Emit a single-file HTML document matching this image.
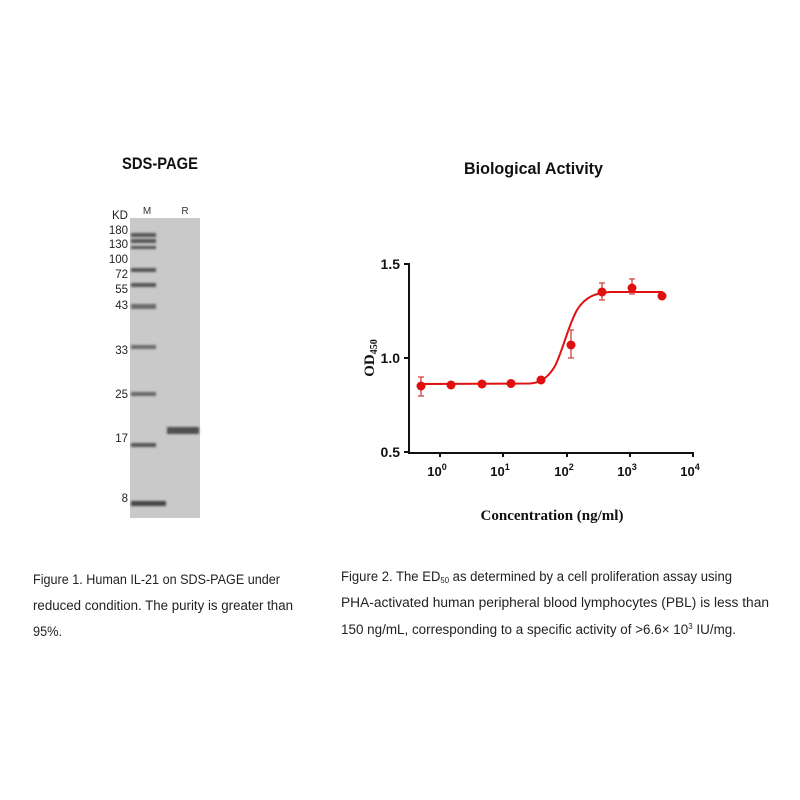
<!DOCTYPE html>
<html><head><meta charset="utf-8"><style>
html,body{margin:0;padding:0;background:#fff;}
svg{display:block;}
.cap{font-family:"Liberation Sans",sans-serif;font-size:13.5px;fill:#222;}
</style></head><body>
<svg width="800" height="800" viewBox="0 0 800 800" xmlns="http://www.w3.org/2000/svg">
<rect width="800" height="800" fill="#fff"/>
<defs><filter id="bl"><feGaussianBlur stdDeviation="1.1"/></filter></defs>
<text x="122" y="169" textLength="76" lengthAdjust="spacingAndGlyphs" font-family="Liberation Sans, sans-serif" font-size="17" font-weight="bold" fill="#111">SDS-PAGE</text>
<text x="464" y="174" textLength="139" lengthAdjust="spacingAndGlyphs" font-family="Liberation Sans, sans-serif" font-size="17" font-weight="bold" fill="#111">Biological Activity</text>
<!-- gel -->
<rect x="130" y="218" width="70" height="300" fill="#c9c9c9"/>
<g filter="url(#bl)" fill="#555">
<rect x="131" y="233" width="25" height="4"/>
<rect x="131" y="239" width="25" height="4"/>
<rect x="131" y="246" width="25" height="3"/>
<rect x="131" y="268" width="25" height="4"/>
<rect x="131" y="283" width="25" height="4"/>
<rect x="131" y="304" width="25" height="5" fill="#6a6a6a"/>
<rect x="131" y="345" width="25" height="4" fill="#6a6a6a"/>
<rect x="131" y="392" width="25" height="4" fill="#666"/>
<rect x="131" y="443" width="25" height="4"/>
<rect x="131" y="501" width="35" height="5" fill="#444"/>
<rect x="167" y="427" width="32" height="7" fill="#505050"/>
</g>
<g font-family="Liberation Sans, sans-serif" font-size="11.5" fill="#222" text-anchor="end">
<text x="128" y="219">KD</text>
<text x="128" y="234">180</text>
<text x="128" y="248">130</text>
<text x="128" y="263">100</text>
<text x="128" y="278">72</text>
<text x="128" y="293">55</text>
<text x="128" y="309">43</text>
<text x="128" y="354">33</text>
<text x="128" y="398">25</text>
<text x="128" y="442">17</text>
<text x="128" y="502">8</text>
</g>
<text x="147" y="214" text-anchor="middle" font-family="Liberation Sans, sans-serif" font-size="10" fill="#333">M</text>
<text x="185" y="214" text-anchor="middle" font-family="Liberation Sans, sans-serif" font-size="10" fill="#333">R</text>
<!-- chart axes -->
<g stroke="#111" stroke-width="2" fill="none">
<path d="M409,263 V453 H693"/>
<path d="M404,264 H409 M404,358 H409 M404,452 H409"/>
<path d="M440,452 V457 M503,452 V457 M567,452 V457 M630,452 V457 M693,452 V457"/>
</g>
<g font-family="Liberation Sans, sans-serif" font-size="14" font-weight="bold" fill="#111" text-anchor="end">
<text x="400" y="269">1.5</text><text x="400" y="363">1.0</text><text x="400" y="457">0.5</text>
</g>
<g font-family="Liberation Sans, sans-serif" font-size="13" font-weight="bold" fill="#111" text-anchor="middle">
<text x="437" y="476">10<tspan font-size="9" dy="-6">0</tspan></text>
<text x="500" y="476">10<tspan font-size="9" dy="-6">1</tspan></text>
<text x="564" y="476">10<tspan font-size="9" dy="-6">2</tspan></text>
<text x="627" y="476">10<tspan font-size="9" dy="-6">3</tspan></text>
<text x="690" y="476">10<tspan font-size="9" dy="-6">4</tspan></text>
</g>
<text x="552" y="520" text-anchor="middle" font-family="Liberation Serif, serif" font-size="15" font-weight="bold" fill="#111">Concentration (ng/ml)</text>
<text transform="translate(374,358) rotate(-90)" text-anchor="middle" font-family="Liberation Serif, serif" font-size="15" font-weight="bold" fill="#111">OD<tspan font-size="10" dy="3">450</tspan></text>
<!-- curve -->
<path d="M421,384 L530,383.5 C540,383 548,378 555,366 C563,350 568,326 577,310 C585,297 595,293 610,292 L663,292" stroke="#e01010" stroke-width="2" fill="none"/>
<g stroke="#d04040" stroke-width="1.3">
<path d="M421,377 V396 M418,377 H424 M418,396 H424"/>
<path d="M541,377 V383 M538,377 H544"/>
<path d="M571,330 V358 M568,330 H574 M568,358 H574"/>
<path d="M602,283 V300 M599,283 H605 M599,300 H605"/>
<path d="M632,279 V294 M629,279 H635 M629,294 H635"/>
</g>
<g fill="#e01010">
<circle cx="421" cy="386" r="4.5"/><circle cx="451" cy="385" r="4.5"/><circle cx="482" cy="384" r="4.5"/>
<circle cx="511" cy="383.5" r="4.5"/><circle cx="541" cy="380" r="4.5"/><circle cx="571" cy="345" r="4.5"/>
<circle cx="602" cy="292" r="4.5"/><circle cx="632" cy="288" r="4.5"/><circle cx="662" cy="296" r="4.5"/>
</g>
<!-- captions -->
<text class="cap" x="33" y="584" textLength="247" lengthAdjust="spacingAndGlyphs">Figure 1. Human IL-21 on SDS-PAGE under</text>
<text class="cap" x="33" y="610" textLength="260" lengthAdjust="spacingAndGlyphs">reduced condition. The purity is greater than</text>
<text class="cap" x="33" y="636" textLength="29" lengthAdjust="spacingAndGlyphs">95%.</text>
<text class="cap" x="341" y="581" textLength="391" lengthAdjust="spacingAndGlyphs">Figure 2. The ED<tspan font-size="8" dy="2">50</tspan><tspan dy="-2"> as determined by a cell proliferation assay using</tspan></text>
<text class="cap" x="341" y="607" textLength="428" lengthAdjust="spacingAndGlyphs">PHA-activated human peripheral blood lymphocytes (PBL) is less than</text>
<text class="cap" x="341" y="634" textLength="395" lengthAdjust="spacingAndGlyphs">150 ng/mL, corresponding to a specific activity of &gt;6.6× 10<tspan font-size="8" dy="-5">3</tspan><tspan dy="5"> IU/mg.</tspan></text>
</svg>
</body></html>
